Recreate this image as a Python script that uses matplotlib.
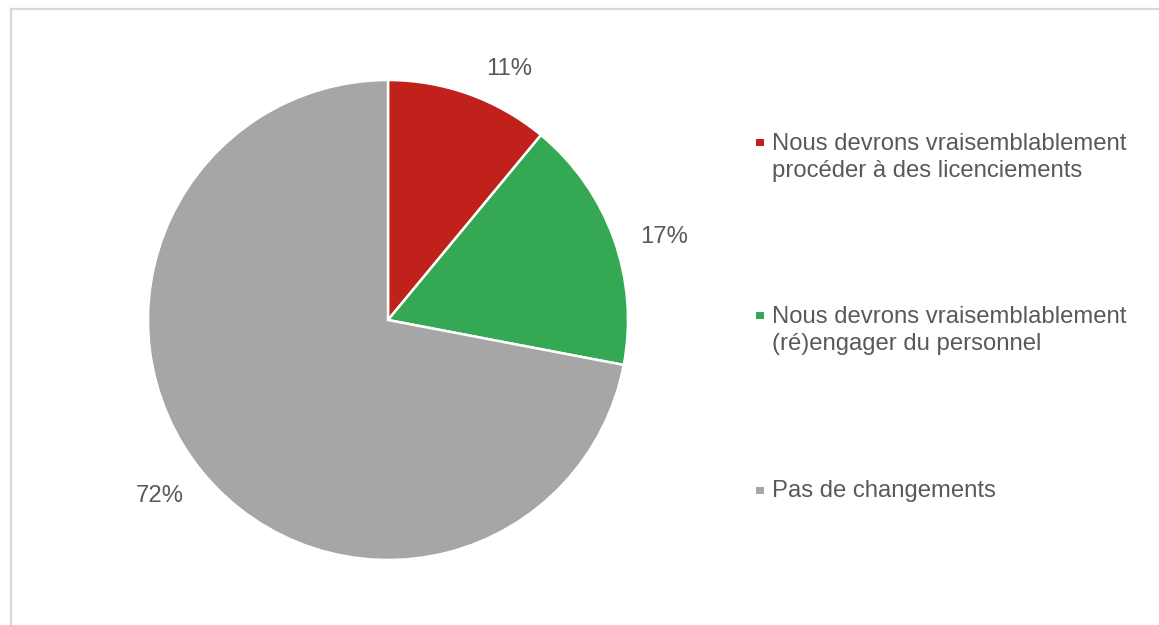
import matplotlib
matplotlib.use('Agg')
import matplotlib.pyplot as plt
import numpy as np
from matplotlib.lines import Line2D
from matplotlib.patches import Rectangle

# data
labels = ["Nous devrons vraisemblablement\nprocéder à des licenciements",
          "Nous devrons vraisemblablement\n(ré)engager du personnel",
          "Pas de changements"]
values = [11, 17, 72]
colors = ['#C0211A', '#35A853', '#A6A6A6']

plt.rcParams['font.family'] = ['Liberation Sans', 'DejaVu Sans']
text_color = '#595959'
fsize = 17.2

fig = plt.figure(figsize=(11.59, 6.25), dpi=100)
W, H = 1159, 625

# pie axes: centre (388, 320) px, radius 240 px
cx, cy, r = 388, 320, 240
ax = fig.add_axes([(cx - r) / W, 1 - (cy + r) / H, 2 * r / W, 2 * r / H])
wedges, texts, autotexts = ax.pie(values, colors=colors, startangle=90,
                                  counterclock=False, radius=1,
                                  autopct='%1.0f%%', pctdistance=1.2,
                                  wedgeprops=dict(edgecolor='white', linewidth=1.8),
                                  textprops=dict(color=text_color, fontsize=fsize))
ax.set_xlim(-1, 1)
ax.set_ylim(-1, 1)
ax.set_aspect('equal')

# label placement a la Excel: slight angle/distance tweaks per label
angle_shift = [-6, -3, -2]   # degrees
dist = [1.16, 1.2, 1.2]
for w, t, da, d in zip(wedges, autotexts, angle_shift, dist):
    a = np.deg2rad((w.theta1 + w.theta2) / 2 + da)
    t.set_position((d * np.cos(a), d * np.sin(a)))
    t.set_clip_on(False)

# legend drawn by hand (marker lines up with the first text line)
legend_y = [149, 322, 497]   # baseline of first line, px from top
line_h = 28
for lab, col, y in zip(labels, colors, legend_y):
    n = lab.count('\n')
    fig.patches.append(Rectangle((756 / W, 1 - (y - 3) / H), 8 / W, 7 / H,
                                 transform=fig.transFigure, facecolor=col,
                                 edgecolor='none'))
    fig.text(772 / W, 1 - (y + n * line_h) / H, lab, ha='left', va='baseline',
             color=text_color, fontsize=fsize, linespacing=1.3)

# light frame on top and left
fig.add_artist(Line2D([11 / W, 1], [1 - 9 / H, 1 - 9 / H], color='#D9D9D9', lw=1.6))
fig.add_artist(Line2D([11 / W, 11 / W], [0, 1 - 9 / H], color='#D9D9D9', lw=1.6))

fig.savefig('out.png', dpi=100, facecolor='white')
